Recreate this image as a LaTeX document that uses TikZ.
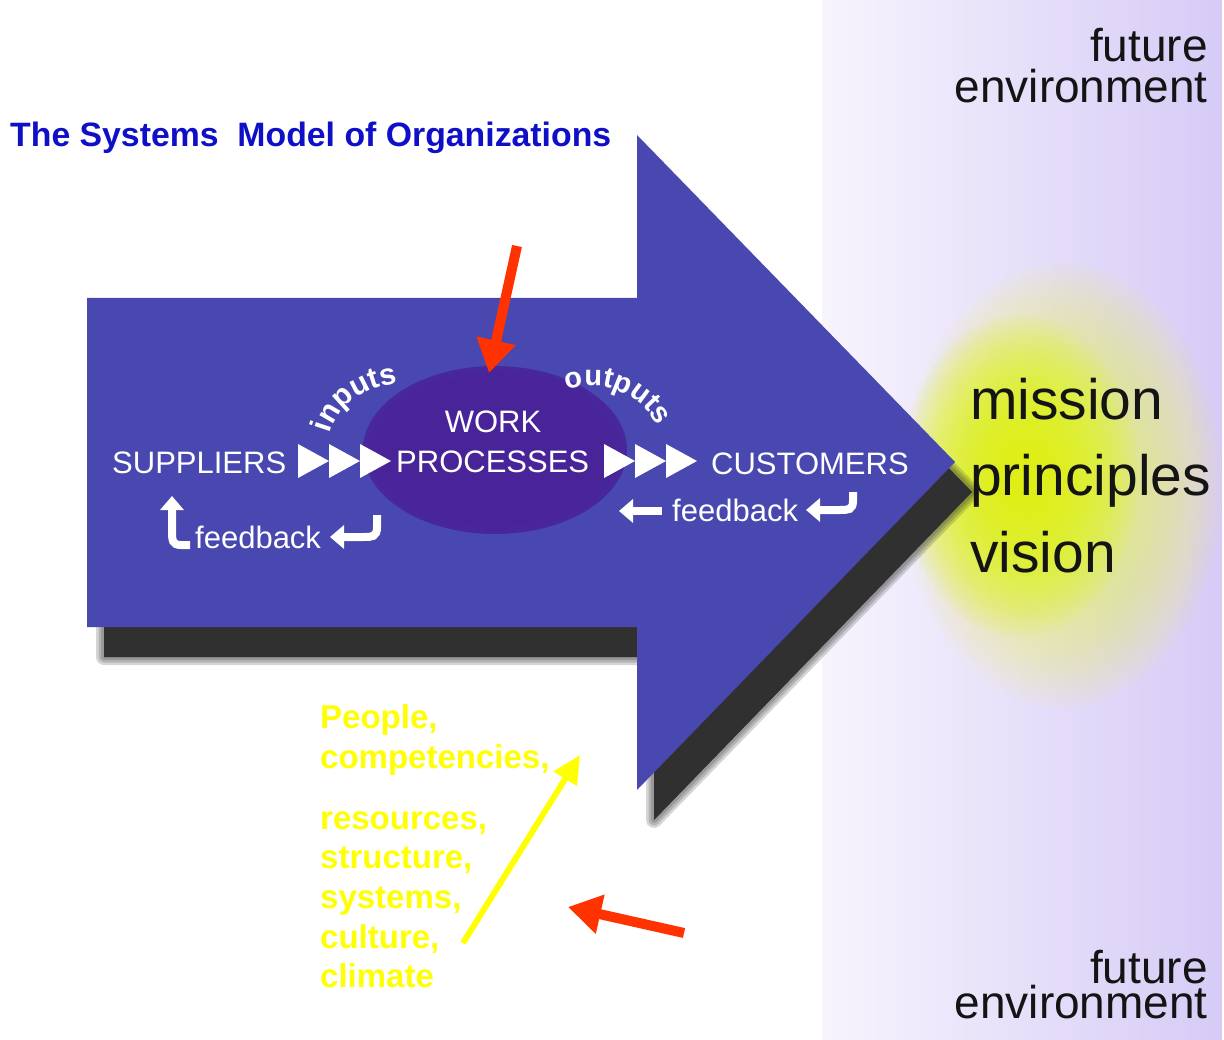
\documentclass[tikz,border=0pt]{standalone}
\usepackage{fontspec}
\setmainfont{Liberation Sans}
\usetikzlibrary{arrows.meta,decorations.text}
\definecolor{arrowblue}{RGB}{72,72,176}
\definecolor{ovalpurple}{RGB}{72,36,152}
\definecolor{titleblue}{RGB}{15,15,200}
\definecolor{redarr}{RGB}{255,50,0}
\definecolor{yel}{RGB}{255,255,0}
\definecolor{lavL}{RGB}{247,244,253}
\definecolor{lavM}{RGB}{233,226,250}
\definecolor{lavR}{RGB}{214,203,246}
\definecolor{glowY}{RGB}{222,250,0}
\definecolor{glowP}{RGB}{236,244,110}
\definecolor{txtdark}{RGB}{20,20,20}
\definecolor{shadowgray}{RGB}{48,48,48}
\newcommand\fsz[1]{\fontsize{#1}{#1}\selectfont}
\pgfdeclareradialshading{ovalshade}{\pgfpointorigin}{color(0bp)=(ovalpurple); color(22bp)=(ovalpurple); color(50bp)=(arrowblue)}
\tikzset{
  lbl/.style={text=white, inner sep=0pt, font=\fsz{31}, anchor=base west},
  ylw/.style={text=yel, inner sep=0pt, font=\fsz{33}\bfseries, anchor=base west},
  env/.style={text=txtdark, inner sep=0pt, font=\fsz{46}, anchor=base east},
  mpv/.style={text=txtdark, inner sep=0pt, font=\fsz{57}, anchor=base west},
  fb/.style={draw=white, line width=8pt, -{Triangle[length=14pt,width=23pt]}},
  redarrow/.style={draw=redarr, line width=10pt, -{Triangle[length=33pt,width=38pt]}},
  yelarrow/.style={draw=yel, line width=6pt, -{Triangle[length=28pt,width=26pt]}},
  shadowlayer/.style={shadowgray, line join=round}
}
\begin{document}
\begin{tikzpicture}[x=1pt,y=-1pt]
\useasboundingbox (0,0) rectangle (1224,1040);
\fill[white] (0,0) rectangle (1224,1040);
% right panel
\shade[left color=lavL, middle color=lavM, right color=lavR] (822,0) rectangle (1222,1040);
% glow
\foreach \i in {0,...,24} {
  \pgfmathsetmacro\f{1-\i/27}
  \fill[glowP, opacity=0.07] (1062,485) ellipse [x radius=\f*160pt, y radius=\f*222pt];
}
\foreach \i in {0,...,19} {
  \pgfmathsetmacro\f{1-\i/22}
  \fill[glowY, opacity=0.08] (1020,476) ellipse [x radius=\f*118pt, y radius=\f*160pt];
}
% shadow of big arrow
\begin{scope}[shift={(17,30)}]
\foreach \w in {16,11,6} {
\filldraw[shadowlayer, opacity=0.2, line width=\w pt] (87,298) -- (637,298) -- (637,135) -- (955,462) -- (637,790) -- (637,627) -- (87,627) -- cycle;
}
\fill[shadowgray] (87,298) -- (637,298) -- (637,135) -- (955,462) -- (637,790) -- (637,627) -- (87,627) -- cycle;
\end{scope}
% big arrow
\fill[arrowblue] (87,298) -- (637,298) -- (637,135) -- (955,462) -- (637,790) -- (637,627) -- (87,627) -- cycle;
% oval
\shade[shading=ovalshade] (495,450) ellipse [x radius=132pt, y radius=84pt];
% title
\node[text=titleblue, inner sep=0pt, font=\fsz{33.8}\bfseries, anchor=base west] (title) at (10,147) {The Systems\ \ Model of Organizations};
% main labels
\node[lbl] (suppliers) at (112,473) {SUPPLIERS};
\node[lbl, anchor=base] (work) at (493,433) {WORK};
\node[lbl] (processes) at (396,472) {PROCESSES};
\node[lbl] (customers) at (711,475) {CUSTOMERS};
\node[lbl] (fbleft) at (195,548) {feedback};
\node[lbl] (fbright) at (672,521) {feedback};
% triangles
\foreach \x in {298,329,360} \fill[white] (\x,444) -- (\x+31,461) -- (\x,478) -- cycle;
\foreach \x in {604,635,666} \fill[white] (\x,444) -- (\x+31,461) -- (\x,478) -- cycle;
% curved labels
\path[decorate, decoration={text along path, text={|\fsz{30}\bfseries\color{white}|inputs}}] (330,434) .. controls (338,404) and (365,384) .. (414,382);
\path[decorate, decoration={text along path, text={|\fsz{29}\bfseries\color{white}|outputs}}] (567,390) .. controls (605,378) and (650,392) .. (668,450);
% feedback arrows
\draw[fb] (190,545) -- (181,545) .. controls (172,545) and (172,540) .. (172,530) -- (172,496);
\draw[fb] (377,515) -- (377,527) .. controls (377,537) and (372,537) .. (364,537) -- (330,537);
\draw[fb] (662,511) -- (619,511);
\draw[fb] (853,492) -- (853,501) .. controls (853,510) and (848,510) .. (840,510) -- (806,510);
% red and yellow arrows
\coordinate (r1s) at (517,246);
\coordinate (r1e) at (489,373);
\coordinate (r2s) at (684,933);
\coordinate (r2e) at (568,907);
\coordinate (ys) at (463,943);
\coordinate (ye) at (580,755);
\draw[redarrow] (r1s) -- (r1e);
\draw[redarrow] (r2s) -- (r2e);
\draw[yelarrow] (ys) -- (ye);
% yellow text
\node[ylw] (people) at (320,728) {People,};
\node[ylw] (compet) at (320,768) {competencies,};
\node[ylw] (resources) at (320,829) {resources,};
\node[ylw] (structure) at (320,868) {structure,};
\node[ylw] (systems) at (320,908) {systems,};
\node[ylw] (culture) at (320,948) {culture,};
\node[ylw] (climate) at (320,987) {climate};
% right texts
\node[env] (fut1) at (1208,62) {future};
\node[env] (env1) at (1208,103) {environment};
\node[env] (fut2) at (1208,983) {future};
\node[env] (env2) at (1208,1018) {environment};
\node[mpv] (mission) at (970,420) {mission};
\node[mpv] (principles) at (970,496) {principles};
\node[mpv] (vision) at (970,572) {vision};
\end{tikzpicture}
\end{document}
